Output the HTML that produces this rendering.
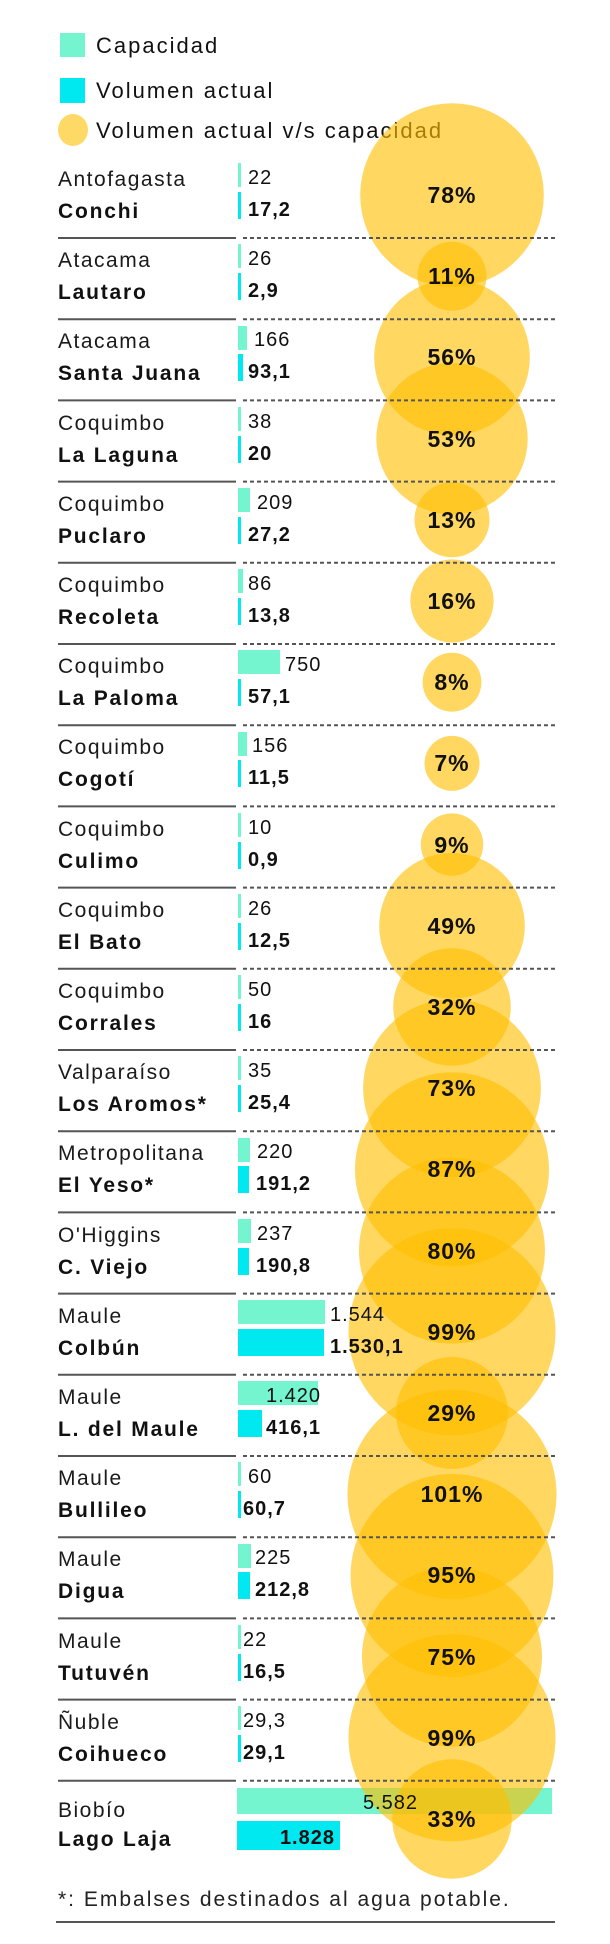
<!DOCTYPE html>
<html><head><meta charset="utf-8"><style>
html,body{margin:0;padding:0;background:#fff;}
svg{display:block;font-family:"Liberation Sans",sans-serif;}
.rg{font-size:21px;fill:#1a1a1a;letter-spacing:1.5px;}
.nm{font-size:21px;font-weight:bold;fill:#111;letter-spacing:1.8px;}
.cv{font-size:20px;fill:#111;letter-spacing:1px;}
.vv{font-size:20px;font-weight:bold;fill:#111;letter-spacing:1px;}
.pc{font-size:23px;font-weight:bold;fill:#111;text-anchor:middle;letter-spacing:1px;}
.lg{font-size:22px;fill:#111;letter-spacing:2px;}
</style></head><body>
<svg width="610" height="1944" viewBox="0 0 610 1944">
<rect x="60" y="33" width="25" height="24" fill="#74F5CF"/>
<text class="lg" x="96" y="53">Capacidad</text>
<rect x="60" y="78" width="25" height="25" fill="#00E8F0"/>
<text class="lg" x="96" y="98">Volumen actual</text>
<ellipse cx="73" cy="130" rx="15" ry="16" fill="#FFD966"/>
<text class="lg" x="96" y="138">Volumen actual v/s capacidad</text>

<g>
<rect x="238" y="163" width="3" height="24" fill="#74F5CF"/><rect x="238" y="192" width="3" height="27" fill="#00E8F0"/>
<rect x="238" y="244" width="3" height="24" fill="#74F5CF"/><rect x="238" y="273" width="3" height="27" fill="#00E8F0"/>
<rect x="238" y="326" width="9" height="24" fill="#74F5CF"/><rect x="238" y="354" width="5" height="27" fill="#00E8F0"/>
<rect x="238" y="407" width="3" height="24" fill="#74F5CF"/><rect x="238" y="436" width="3" height="27" fill="#00E8F0"/>
<rect x="238" y="488" width="12" height="24" fill="#74F5CF"/><rect x="238" y="517" width="3" height="27" fill="#00E8F0"/>
<rect x="238" y="569" width="5" height="24" fill="#74F5CF"/><rect x="238" y="598" width="3" height="27" fill="#00E8F0"/>
<rect x="238" y="650" width="42" height="24" fill="#74F5CF"/><rect x="238" y="679" width="3" height="27" fill="#00E8F0"/>
<rect x="238" y="732" width="9" height="24" fill="#74F5CF"/><rect x="238" y="760" width="3" height="27" fill="#00E8F0"/>
<rect x="238" y="813" width="3" height="24" fill="#74F5CF"/><rect x="238" y="842" width="3" height="27" fill="#00E8F0"/>
<rect x="238" y="894" width="3" height="24" fill="#74F5CF"/><rect x="238" y="923" width="3" height="27" fill="#00E8F0"/>
<rect x="238" y="975" width="3" height="24" fill="#74F5CF"/><rect x="238" y="1004" width="3" height="27" fill="#00E8F0"/>
<rect x="238" y="1056" width="3" height="24" fill="#74F5CF"/><rect x="238" y="1085" width="3" height="27" fill="#00E8F0"/>
<rect x="238" y="1138" width="12" height="24" fill="#74F5CF"/><rect x="238" y="1166" width="11" height="27" fill="#00E8F0"/>
<rect x="238" y="1219" width="13" height="24" fill="#74F5CF"/><rect x="238" y="1248" width="11" height="27" fill="#00E8F0"/>
<rect x="238" y="1300" width="87" height="24" fill="#74F5CF"/><rect x="238" y="1329" width="86" height="27" fill="#00E8F0"/>
<rect x="238" y="1381" width="80" height="24" fill="#74F5CF"/><rect x="238" y="1410" width="24" height="27" fill="#00E8F0"/>
<rect x="238" y="1462" width="3" height="24" fill="#74F5CF"/><rect x="238" y="1491" width="3" height="27" fill="#00E8F0"/>
<rect x="238" y="1544" width="13" height="24" fill="#74F5CF"/><rect x="238" y="1572" width="12" height="27" fill="#00E8F0"/>
<rect x="238" y="1625" width="3" height="24" fill="#74F5CF"/><rect x="238" y="1654" width="3" height="27" fill="#00E8F0"/>
<rect x="238" y="1706" width="3" height="24" fill="#74F5CF"/><rect x="238" y="1735" width="3" height="27" fill="#00E8F0"/>
<rect x="237" y="1788" width="315" height="26" fill="#74F5CF"/><rect x="237" y="1821" width="103" height="29" fill="#00E8F0"/>
</g>

<g fill="#FFBE00" fill-opacity="0.62">
<circle cx="452" cy="195" r="91.8"/>
<circle cx="452" cy="276.2" r="34.5"/>
<circle cx="452" cy="357.4" r="77.8"/>
<circle cx="452" cy="438.6" r="75.7"/>
<circle cx="452" cy="519.8" r="37.5"/>
<circle cx="452" cy="601" r="41.6"/>
<circle cx="452" cy="682.2" r="29.4"/>
<circle cx="452" cy="763.4" r="27.5"/>
<circle cx="452" cy="844.6" r="31.2"/>
<circle cx="452" cy="925.8" r="72.8"/>
<circle cx="452" cy="1007" r="58.8"/>
<circle cx="452" cy="1088.2" r="88.9"/>
<circle cx="452" cy="1169.4" r="97"/>
<circle cx="452" cy="1250.6" r="93"/>
<circle cx="452" cy="1331.8" r="103.5"/>
<circle cx="452" cy="1413" r="56"/>
<circle cx="452" cy="1494.2" r="104.5"/>
<circle cx="452" cy="1575.4" r="101.4"/>
<circle cx="452" cy="1656.6" r="90"/>
<circle cx="452" cy="1737.8" r="103.5"/>
<circle cx="452" cy="1819" r="59.7"/>
</g>

<g stroke="#555" stroke-width="2">
<path d="M58 238H236M58 319.2H236M58 400.4H236M58 481.6H236M58 562.8H236M58 644H236M58 725.2H236M58 806.4H236M58 887.6H236M58 968.8H236M58 1050H236M58 1131.2H236M58 1212.4H236M58 1293.6H236M58 1374.8H236M58 1456H236M58 1537.2H236M58 1618.4H236M58 1699.6H236M58 1780.8H236M56 1922H555"/>
<path stroke-dasharray="4,3" d="M243 238H555M243 319.2H555M243 400.4H555M243 481.6H555M243 562.8H555M243 644H555M243 725.2H555M243 806.4H555M243 887.6H555M243 968.8H555M243 1050H555M243 1131.2H555M243 1212.4H555M243 1293.6H555M243 1374.8H555M243 1456H555M243 1537.2H555M243 1618.4H555M243 1699.6H555M243 1780.8H555"/>
</g>

<g>
<text class="rg" x="58" y="186">Antofagasta</text><text class="nm" x="58" y="218">Conchi</text>
<text class="rg" x="58" y="267">Atacama</text><text class="nm" x="58" y="299">Lautaro</text>
<text class="rg" x="58" y="348">Atacama</text><text class="nm" x="58" y="380">Santa Juana</text>
<text class="rg" x="58" y="430">Coquimbo</text><text class="nm" x="58" y="462">La Laguna</text>
<text class="rg" x="58" y="511">Coquimbo</text><text class="nm" x="58" y="543">Puclaro</text>
<text class="rg" x="58" y="592">Coquimbo</text><text class="nm" x="58" y="624">Recoleta</text>
<text class="rg" x="58" y="673">Coquimbo</text><text class="nm" x="58" y="705">La Paloma</text>
<text class="rg" x="58" y="754">Coquimbo</text><text class="nm" x="58" y="786">Cogotí</text>
<text class="rg" x="58" y="836">Coquimbo</text><text class="nm" x="58" y="868">Culimo</text>
<text class="rg" x="58" y="917">Coquimbo</text><text class="nm" x="58" y="949">El Bato</text>
<text class="rg" x="58" y="998">Coquimbo</text><text class="nm" x="58" y="1030">Corrales</text>
<text class="rg" x="58" y="1079">Valparaíso</text><text class="nm" x="58" y="1111">Los Aromos*</text>
<text class="rg" x="58" y="1160">Metropolitana</text><text class="nm" x="58" y="1192">El Yeso*</text>
<text class="rg" x="58" y="1242">O'Higgins</text><text class="nm" x="58" y="1274">C. Viejo</text>
<text class="rg" x="58" y="1323">Maule</text><text class="nm" x="58" y="1355">Colbún</text>
<text class="rg" x="58" y="1404">Maule</text><text class="nm" x="58" y="1436">L. del Maule</text>
<text class="rg" x="58" y="1485">Maule</text><text class="nm" x="58" y="1517">Bullileo</text>
<text class="rg" x="58" y="1566">Maule</text><text class="nm" x="58" y="1598">Digua</text>
<text class="rg" x="58" y="1648">Maule</text><text class="nm" x="58" y="1680">Tutuvén</text>
<text class="rg" x="58" y="1729">Ñuble</text><text class="nm" x="58" y="1761">Coihueco</text>
<text class="rg" x="58" y="1817">Biobío</text><text class="nm" x="58" y="1846">Lago Laja</text>
</g>

<g>
<text class="cv" x="248" y="184">22</text><text class="vv" x="248" y="216">17,2</text>
<text class="cv" x="248" y="265">26</text><text class="vv" x="248" y="297">2,9</text>
<text class="cv" x="254" y="346">166</text><text class="vv" x="248" y="378">93,1</text>
<text class="cv" x="248" y="428">38</text><text class="vv" x="248" y="460">20</text>
<text class="cv" x="257" y="509">209</text><text class="vv" x="248" y="541">27,2</text>
<text class="cv" x="248" y="590">86</text><text class="vv" x="248" y="622">13,8</text>
<text class="cv" x="285" y="671">750</text><text class="vv" x="248" y="703">57,1</text>
<text class="cv" x="252" y="752">156</text><text class="vv" x="248" y="784">11,5</text>
<text class="cv" x="248" y="834">10</text><text class="vv" x="248" y="866">0,9</text>
<text class="cv" x="248" y="915">26</text><text class="vv" x="248" y="947">12,5</text>
<text class="cv" x="248" y="996">50</text><text class="vv" x="248" y="1028">16</text>
<text class="cv" x="248" y="1077">35</text><text class="vv" x="248" y="1109">25,4</text>
<text class="cv" x="257" y="1158">220</text><text class="vv" x="256" y="1190">191,2</text>
<text class="cv" x="257" y="1240">237</text><text class="vv" x="256" y="1272">190,8</text>
<text class="cv" x="330" y="1321">1.544</text><text class="vv" x="330" y="1353">1.530,1</text>
<text class="cv" x="266" y="1402">1.420</text><text class="vv" x="266" y="1434">416,1</text>
<text class="cv" x="248" y="1483">60</text><text class="vv" x="243" y="1515">60,7</text>
<text class="cv" x="255" y="1564">225</text><text class="vv" x="255" y="1596">212,8</text>
<text class="cv" x="243" y="1646">22</text><text class="vv" x="243" y="1678">16,5</text>
<text class="cv" x="243" y="1727">29,3</text><text class="vv" x="243" y="1759">29,1</text>
<text class="cv" x="418" y="1809" text-anchor="end">5.582</text><text class="vv" x="335" y="1844" text-anchor="end">1.828</text>
</g>

<g>
<text class="pc" x="452" y="203">78%</text>
<text class="pc" x="452" y="284">11%</text>
<text class="pc" x="452" y="365">56%</text>
<text class="pc" x="452" y="447">53%</text>
<text class="pc" x="452" y="528">13%</text>
<text class="pc" x="452" y="609">16%</text>
<text class="pc" x="452" y="690">8%</text>
<text class="pc" x="452" y="771">7%</text>
<text class="pc" x="452" y="853">9%</text>
<text class="pc" x="452" y="934">49%</text>
<text class="pc" x="452" y="1015">32%</text>
<text class="pc" x="452" y="1096">73%</text>
<text class="pc" x="452" y="1177">87%</text>
<text class="pc" x="452" y="1259">80%</text>
<text class="pc" x="452" y="1340">99%</text>
<text class="pc" x="452" y="1421">29%</text>
<text class="pc" x="452" y="1502">101%</text>
<text class="pc" x="452" y="1583">95%</text>
<text class="pc" x="452" y="1665">75%</text>
<text class="pc" x="452" y="1746">99%</text>
<text class="pc" x="452" y="1827">33%</text>
</g>

<text x="58" y="1906" style="font-size:21px;fill:#222;letter-spacing:2px">*: Embalses destinados al agua potable.</text>
</svg>
</body></html>
